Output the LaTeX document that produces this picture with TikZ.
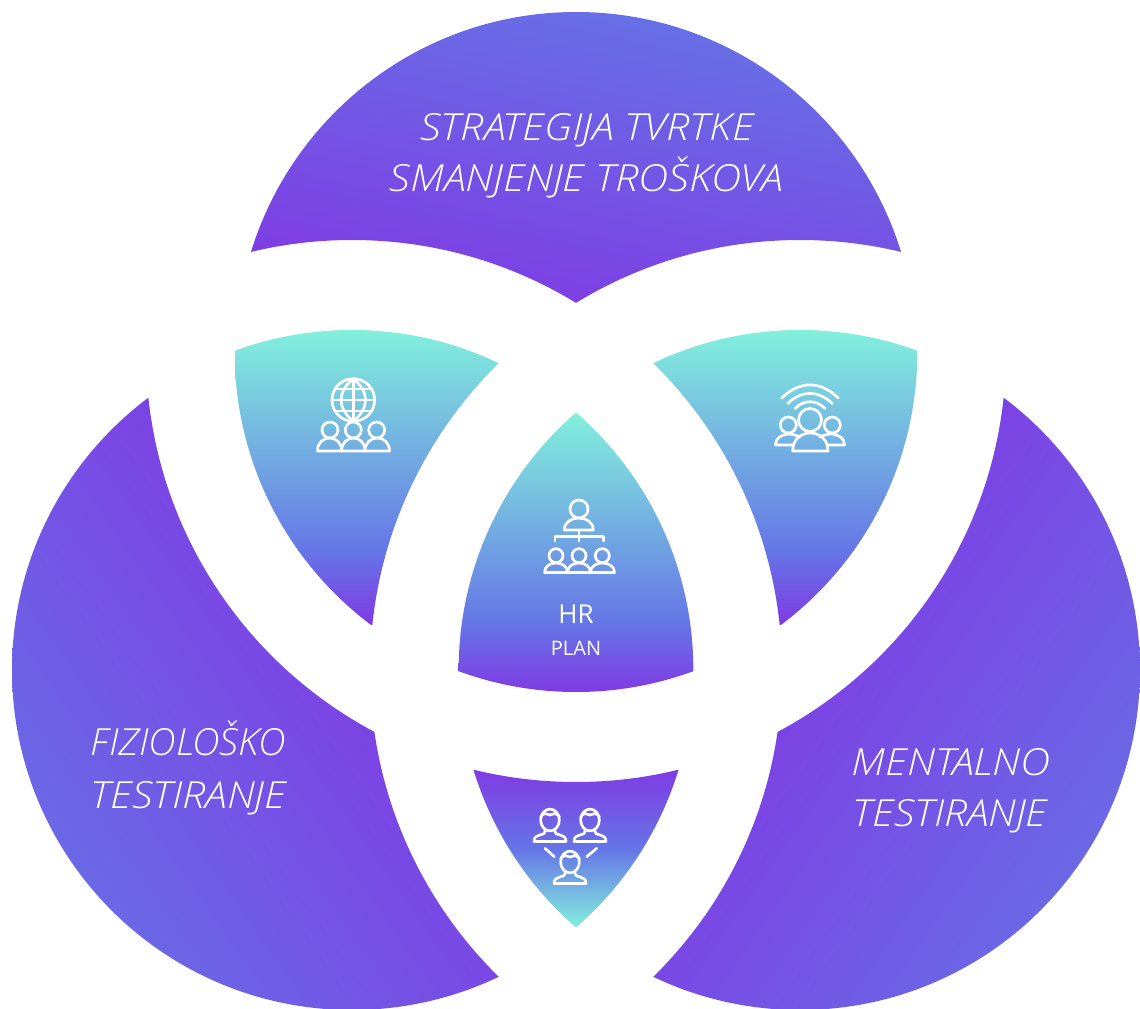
\documentclass[tikz,border=0pt]{standalone}
\usepackage{fontspec}
\setmainfont{Open Sans}
\newfontfamily\lightit{Open Sans Light Italic}
\definecolor{cpur}{RGB}{128,58,228}
\definecolor{cblu}{RGB}{101,116,230}
\definecolor{cgrn}{RGB}{130,240,220}
\pgfdeclareverticalshading{petal}{100bp}{color(0bp)=(cpur); color(25bp)=(cpur); color(37bp)=(cblu); color(75bp)=(cgrn); color(100bp)=(cgrn)}
\pgfdeclareverticalshading{petalb}{100bp}{color(0bp)=(cgrn); color(25bp)=(cgrn); color(50bp)=(cblu); color(75bp)=(cpur); color(100bp)=(cpur)}
\pgfdeclareverticalshading{bigp}{100bp}{color(0bp)=(cpur); color(25bp)=(cpur); color(75bp)=(cblu); color(100bp)=(cblu)}
\pgfdeclareverticalshading{bigs}{100bp}{color(0bp)=(cpur); color(35bp)=(cpur); color(82bp)=(cblu); color(100bp)=(cblu)}
\def\Tc{(576,352)}\def\Lc{(352,670)}\def\Rc{(800,670)}
\newcommand\inC[1]{\clip #1 circle[radius=255pt];}
\newcommand\inD[1]{\clip #1 circle[radius=256pt];}
\newcommand\outC[1]{\clip (-20,-20) rectangle (1160,1030) #1 circle[radius=322.5pt];}
\newcommand\dome[4]{% xl xr ybase ytop
  \pgfmathsetmacro\cy{#3*(-1/3)+#4*(4/3)}
  \draw[icon] (#1,#3) .. controls (#1,\cy) and (#2,\cy) .. (#2,#3) -- cycle;}
\newcommand\head[3]{\draw[icon] (#1,#2) circle[radius=#3*0.75pt];}
\newcommand\bust[3]{% cx cy(head) base half-width
  \draw[icon] (#1,#2) ellipse[x radius=7pt,y radius=8.2pt];
  \draw[icon] (#1-9.5,#2-3) .. controls (#1-5,#2-9) and (#1-3,#2-5) .. (#1,#2-5) .. controls (#1+3,#2-5) and (#1+5,#2-9) .. (#1+9.5,#2-3);
  \draw[icon] (#1-5,#2+10) -- (#1-5,#2+12) .. controls (#1-5,#2+16) and (#1-16,#2+13) .. (#1-16,#2+21.5) -- (#1+16,#2+21.5) .. controls (#1+16,#2+13) and (#1+5,#2+16) .. (#1+5,#2+12) -- (#1+5,#2+10);}
\newcommand\fst[1]{\addfontfeature{FakeStretch=#1}}
\tikzset{icon/.style={draw=white,line width=2pt,line join=round,line cap=round},
 bigtxt/.style={text=white,font=\lightit\fontsize{28}{30}\selectfont,align=center,inner sep=0pt,anchor=base}}
\begin{document}
\begin{tikzpicture}[x=0.75pt,y=-0.75pt]
\useasboundingbox (0,0) rectangle (1140,1009);
% top
\begin{scope}[even odd rule]\inC\Tc\outC\Lc\outC\Rc
\shade[shading=bigp,shading angle=-12] (236,12) rectangle (916,303);
\end{scope}
% left
\begin{scope}[even odd rule]\inC\Lc\outC\Tc\outC\Rc
\shade[shading=bigs,shading angle=125] (12,398) rectangle (500,1009);
\end{scope}
% right
\begin{scope}[even odd rule]\inC\Rc\outC\Tc\outC\Lc
\shade[shading=bigs,shading angle=-125] (652,398) rectangle (1140,1009);
\end{scope}
% upper left petal
\begin{scope}[even odd rule]\inC\Lc\inD\Tc\outC\Rc
\shade[shading=petal] (235,330) rectangle (500,624);
\end{scope}
% upper right petal
\begin{scope}[even odd rule]\inC\Rc\inD\Tc\outC\Lc
\shade[shading=petal] (652,330) rectangle (918,624);
\end{scope}
% centre petal
\begin{scope}\inD\Lc\inD\Rc\inC\Tc
\shade[shading=petal] (458,413) rectangle (694,692);
\end{scope}
% bottom petal
\begin{scope}[even odd rule]\inD\Lc\inD\Rc\outC\Tc
\shade[shading=petalb] (470,768) rectangle (682,928);
\end{scope}
% texts
\node[bigtxt] (t1) at (587,141) {\fst{1.113}STRATEGIJA TVRTKE};
\node[bigtxt] (t2) at (586,191.7) {\fst{1.117}SMANJENJE TROŠKOVA};
\node[bigtxt] (l1) at (188.5,755.7) {\fst{1.02}FIZIOLOŠKO};
\node[bigtxt] (l2) at (188.5,808.3) {\fst{1.105}TESTIRANJE};
\node[bigtxt] (r1) at (951,775.5) {\fst{1.115}MENTALNO};
\node[bigtxt] (r2) at (950,826.5) {\fst{1.1}TESTIRANJE};
\node[text=white,font=\fontsize{19.5}{20}\selectfont,inner sep=0pt] (hr) at (576,614) {HR};
\node[text=white,font=\fontsize{15}{16}\selectfont,inner sep=0pt] (plan) at (576,648) {PLAN};
% icon globe
\draw[icon] (353.3,400) circle[radius=16pt];
\draw[icon] (353.3,378.7) .. controls (337,392) and (337,408) .. (353.3,421.3) .. controls (369.6,408) and (369.6,392) .. (353.3,378.7);
\draw[icon] (353.3,378.7) -- (353.3,421.3) (332,400) -- (374.6,400) (335,389) -- (371.6,389) (335,411) -- (371.6,411);
\head{330}{430}{8}\head{353.3}{430}{8}\head{376.7}{430}{8}
\dome{317.5}{341.7}{451}{438}\dome{341.7}{365}{451}{438}\dome{365}{389.5}{451}{438}
% icon wifi group
\head{810}{420}{11.5}\head{788.3}{425}{8}\head{832.3}{425}{8}
\dome{792.7}{828}{451}{433}
\draw[icon] (793,445) -- (775.5,445) .. controls (775.5,438) and (781,435) .. (788,434) .. controls (792,434) and (796,435) .. (800,437);
\draw[icon] (827,445) -- (844.5,445) .. controls (844.5,438) and (839,435) .. (832,434) .. controls (828,434) and (824,435) .. (820,437);
\draw[icon] (781.7,398) .. controls (800,380.5) and (820,380.5) .. (838.3,398);
\draw[icon] (787.7,403.5) .. controls (802,390) and (818,390) .. (832.3,403.5);
\draw[icon] (795,408.5) .. controls (804,399.5) and (816,399.5) .. (825,408.5);
% icon hierarchy
\head{579}{509}{9}\dome{564.3}{593.3}{530}{518}
\draw[icon] (579,530) -- (579,541) (555,541) -- (555,536.7) -- (603.3,536.7) -- (603.3,541);
\head{556}{555.7}{7}\head{579}{555.7}{7}\head{602.3}{555.7}{7}
\dome{544.5}{567.5}{572.5}{563}\dome{567.5}{590.5}{572.5}{563}\dome{590.5}{614.5}{572.5}{563}
% icon three busts
\bust{550}{820}{}\bust{590}{820}{}\bust{570}{862}{}
\draw[icon] (545,848.3) -- (554.3,856.7) (596.7,848.3) -- (586.7,856.7);
\end{tikzpicture}
\end{document}
